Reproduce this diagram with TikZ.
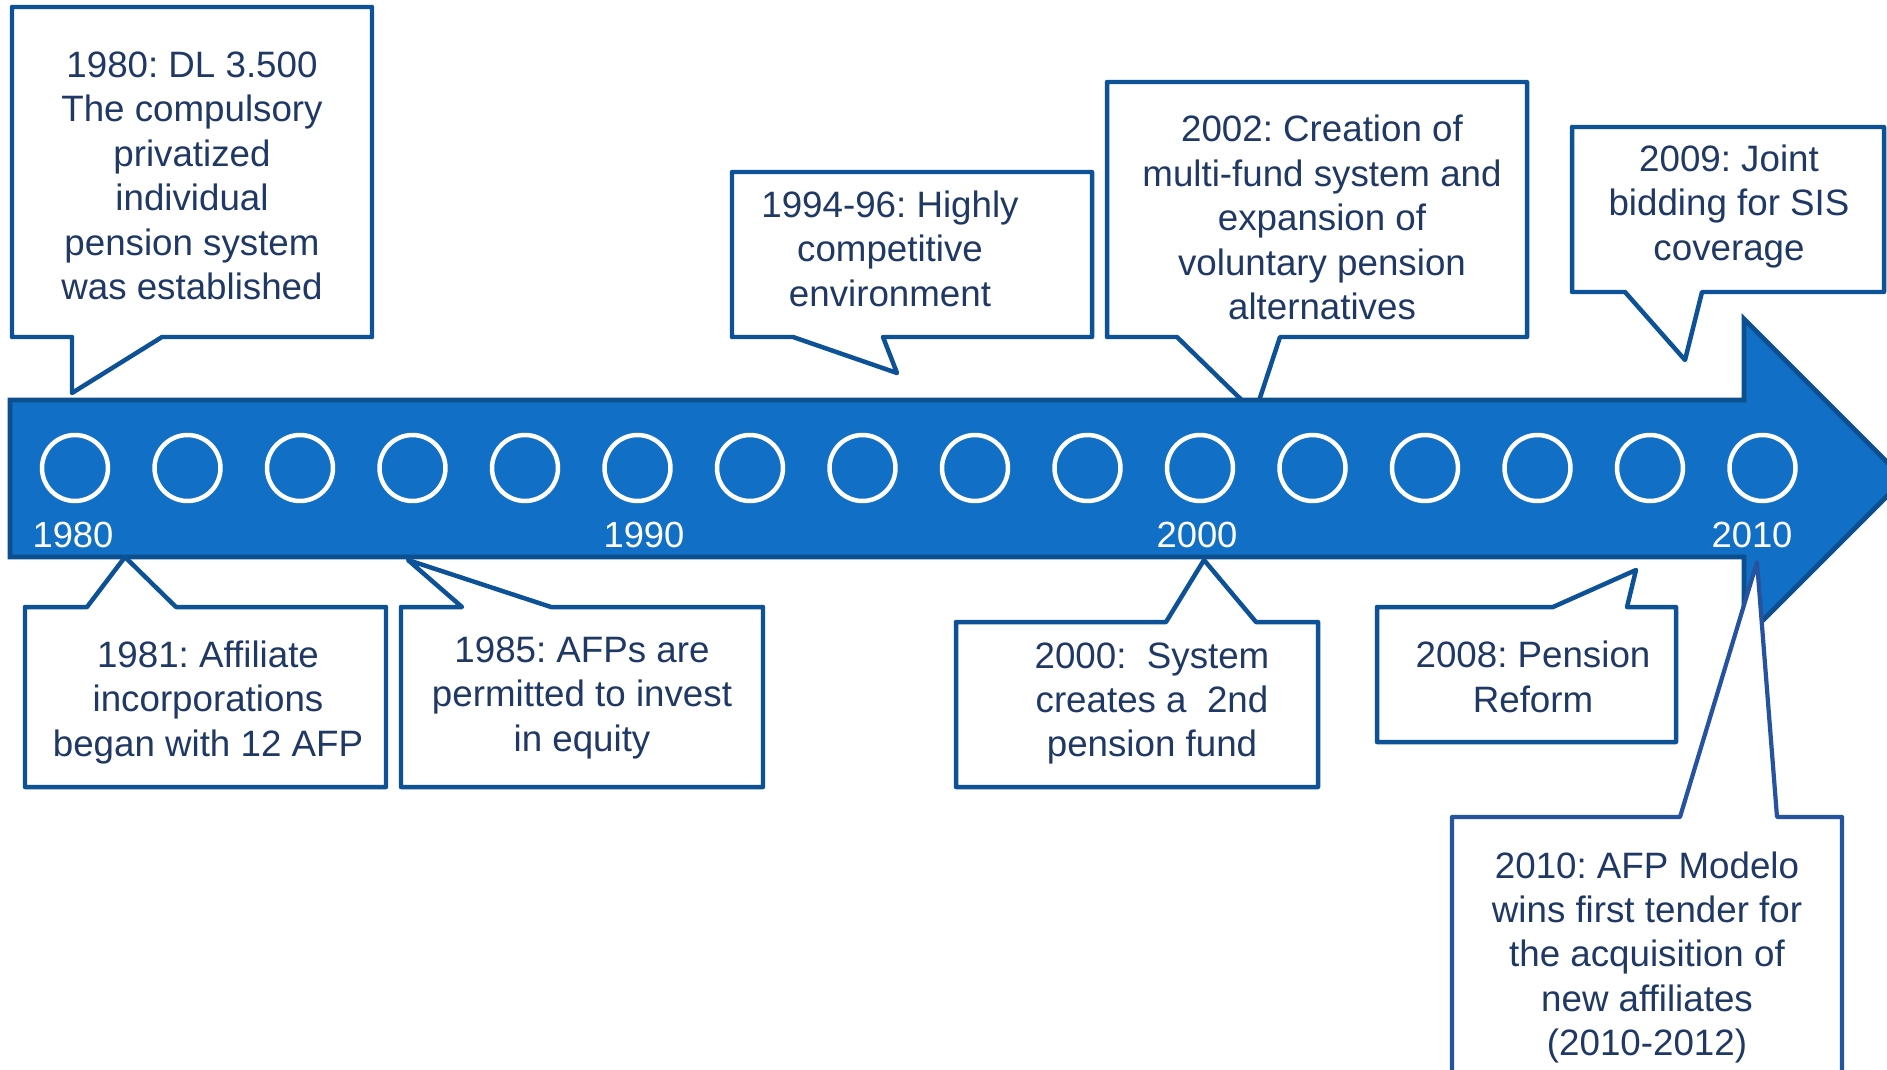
\documentclass[tikz,border=0pt]{standalone}
\usepackage{fontspec}
\setmainfont{Liberation Sans}
\frenchspacing
\definecolor{bandfill}{HTML}{1170C5}
\definecolor{bandline}{HTML}{0C4F8F}
\definecolor{callline}{HTML}{0D5296}
\definecolor{calllineb}{HTML}{2553A0}
\definecolor{txtcol}{HTML}{1F3864}
\tikzset{
  callout/.style={draw=callline, fill=white, line width=2.55pt, line join=round},
  calloutb/.style={draw=calllineb, fill=white, line width=2.4pt, line join=round},
  band/.style={draw=bandline, fill=bandfill, line width=2.8pt, line join=miter},
  dot/.style={circle, draw=white, line width=2.55pt, minimum size=1.32cm, inner sep=0pt},
  txt/.style={align=center, text=txtcol, font=\fontsize{20.9}{25.3}\selectfont\frenchspacing, inner sep=0pt},
  yearlbl/.style={text=white, font=\fontsize{20.7}{25.3}\selectfont, anchor=base, inner sep=0pt}
}
\begin{document}
\begin{tikzpicture}[x=0.02cm, y=-0.02cm]
\useasboundingbox (0,0) rectangle (1887,1069);
\clip (0,0) rectangle (1887,1069);
\fill[white] (0,0) rectangle (1887,1069);

% 2002 callout (tail goes under the band)
\draw[callout] (1107,82) -- (1527,82) -- (1527,337) -- (1280,337) -- (1255,413) -- (1177,337) -- (1107,337) -- cycle;

% band arrow
\draw[band] (10,400) -- (1744,400) -- (1744,319) -- (1904,479) -- (1744,639) -- (1744,557) -- (10,557) -- cycle;

% circles
\foreach \i in {0,...,15}
  \node[dot] (c\i) at ({75+112.5*\i},468) {};

% year labels
\node[yearlbl] (y1980) at (73,547) {1980};
\node[yearlbl] (y1990) at (644,547) {1990};
\node[yearlbl] (y2000) at (1197,547) {2000};
\node[yearlbl] (y2010) at (1752,547) {2010};

% upper callouts
\draw[callout] (12,7) -- (372,7) -- (372,337) -- (162,337) -- (72,393) -- (72,337) -- (12,337) -- cycle;
\draw[callout] (732,172) -- (1092,172) -- (1092,337) -- (883,337) -- (897,373) -- (793,337) -- (732,337) -- cycle;
\draw[callout] (1572,127) -- (1884,127) -- (1884,292) -- (1702,292) -- (1685,360) -- (1625,292) -- (1572,292) -- cycle;

% lower callouts
\draw[callout] (25,607) -- (87,607) -- (125,557) -- (176,607) -- (386,607) -- (386,787) -- (25,787) -- cycle;
\draw[callout] (401,607) -- (462,607) -- (408,560) -- (551,607) -- (763,607) -- (763,787) -- (401,787) -- cycle;
\draw[callout] (956,622) -- (1166,622) -- (1204,560) -- (1256,622) -- (1318,622) -- (1318,787) -- (956,787) -- cycle;
\draw[callout] (1377,607) -- (1553,607) -- (1636,570) -- (1627,607) -- (1676,607) -- (1676,742) -- (1377,742) -- cycle;
\draw[calloutb] (1452,817) -- (1680,817) -- (1757,562) -- (1777,817) -- (1842,817) -- (1842,1095) -- (1452,1095) -- cycle;

% texts
\node[txt] (t1980) at (192,179.6) {\strut 1980: DL 3.500\\The compulsory\\privatized\\individual\\pension system\\was established\strut};
\node[txt] (t1994) at (890,253) {\strut 1994-96: Highly\\competitive\\environment\strut};
\node[txt] (t2002) at (1322,222) {\strut 2002: Creation of\\multi-fund system and\\expansion of\\voluntary pension\\alternatives\strut};
\node[txt] (t2009) at (1729,207) {\strut 2009: Joint\\bidding for SIS\\coverage\strut};
\node[txt] (t1981) at (208,703) {\strut 1981: Affiliate\\incorporations\\began with 12 AFP\strut};
\node[txt] (t1985) at (582,698) {\strut 1985: AFPs are\\permitted to invest\\in equity\strut};
\node[txt] (t2000) at (1152,703.6) {\strut 2000:~ System\\creates a~ 2nd\\pension fund\strut};
\node[txt] (t2008) at (1533,681) {\strut 2008: Pension\\Reform\strut};
\node[txt] (t2010) at (1647,958) {\strut 2010: AFP Modelo\\wins first tender for\\the acquisition of\\new affiliates\\(2010-2012)\strut};
\end{tikzpicture}
\end{document}
